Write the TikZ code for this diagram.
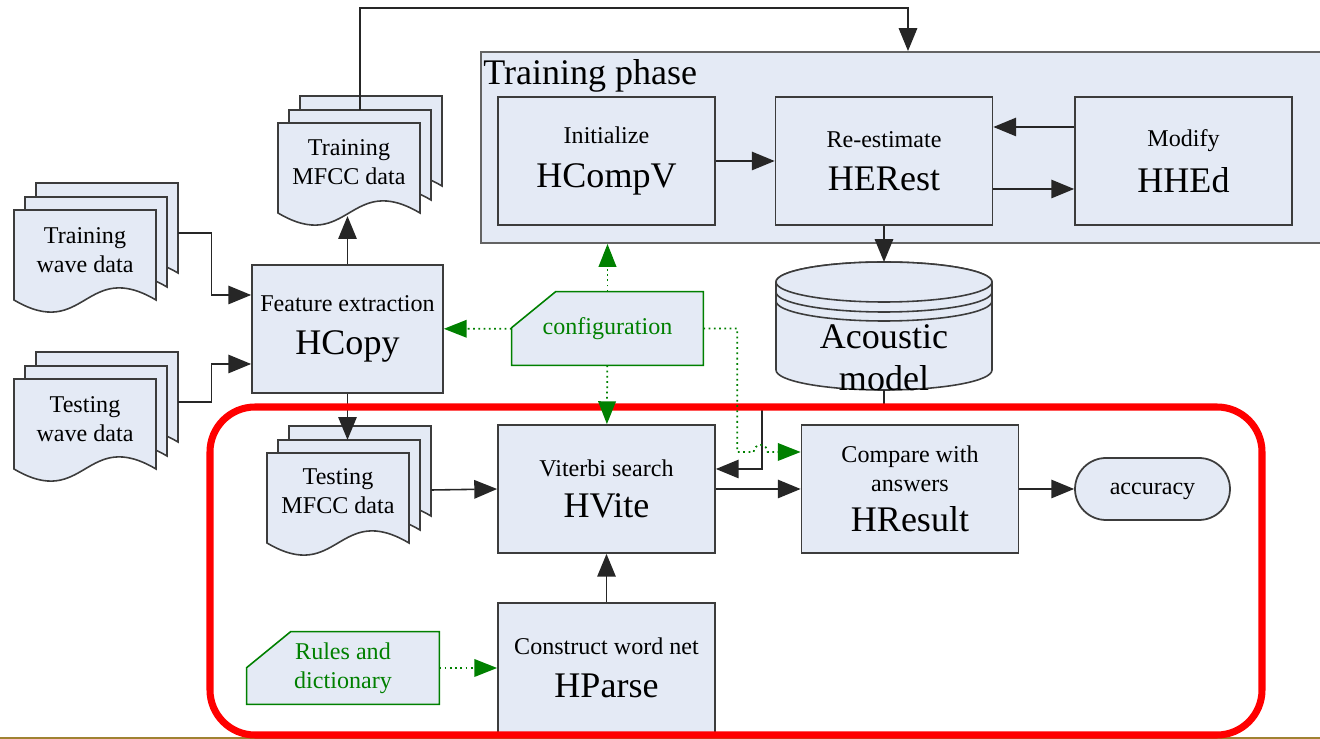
\documentclass[tikz,border=0pt]{standalone}
\usepackage{fontspec}
\setmainfont{Liberation Serif}
\usetikzlibrary{arrows.meta,backgrounds}

\definecolor{boxfill}{RGB}{228,234,245}
\definecolor{boxline}{RGB}{60,60,60}
\definecolor{cfggreen}{RGB}{0,128,0}
\definecolor{framered}{RGB}{255,0,0}
\definecolor{slideline}{RGB}{160,130,50}

\newcommand{\smalltxt}{\fontsize{13.7}{16.5}\selectfont}
\newcommand{\bigtxt}{\fontsize{20.5}{24}\selectfont}

% one page with a wavy bottom, top left corner at (#1,#2)
\newcommand{\docpage}[2]{%
  \draw[page] (#1,#2) -- (#1+142,#2) -- (#1+142,#2+90)
    .. controls (#1+71,#2+48) and (#1+71,#2+132) .. (#1,#2+90) -- cycle;}
% three pages stacked
\newcommand{\docstack}[2]{\docpage{#1+22}{#2-27}\docpage{#1+11}{#2-13}\docpage{#1}{#2}}
% green box with the top left corner cut off
\newcommand{\cutbox}[1]{%
  \draw[cfgshape] ([shift={(44,0)}]#1.north west) -- (#1.north east)
    -- (#1.south east) -- (#1.south west) -- ([shift={(0,36)}]#1.north west) -- cycle;}

\begin{document}
\begin{tikzpicture}[x=0.02cm,y=-0.02cm,
    every node/.style={font=\smalltxt},
    proc/.style={draw=boxline,fill=boxfill,line width=1pt,minimum width=4.34cm,
      minimum height=2.56cm,align=center,inner sep=0pt},
    doctext/.style={align=center,inner sep=0pt,minimum width=2.84cm},
    page/.style={draw=boxline,fill=boxfill,line width=0.9pt},
    arr/.style={draw=black!85,line width=0.9pt,-{Triangle[length=13pt,width=10.5pt]}},
    cfgarr/.style={draw=cfggreen,line width=1pt,dotted,
      -{Triangle[length=13pt,width=10pt]}},
    cfg/.style={text=cfggreen,align=center,inner sep=0pt},
    cfgshape/.style={draw=cfggreen,fill=boxfill,line width=0.9pt}]
\clip (0,0) rectangle (1320,739);

% input and output data
\docstack{14}{210}
\node[doctext] (trwave) at (85,250) {Training\\wave data};
\docstack{14}{379}
\node[doctext] (tewave) at (85,419) {Testing\\wave data};
\docstack{278}{123}
\node[doctext] (trmfcc) at (349,162) {Training\\MFCC data};
\docstack{267}{453}
\node[doctext] (temfcc) at (338,491) {Testing\\MFCC data};

% training phase
\node[draw=boxline!80,fill=boxfill,line width=1.1pt,minimum width=16.98cm,
  minimum height=3.82cm] (train) at (905.5,147.5) {};
\node[anchor=north west,font=\bigtxt,inner sep=0pt] (phase)
  at ([shift={(3,8)}]train.north west) {Training phase};
\node[proc] (hcompv) at (606.5,161) {Initialize\\[8pt]\bigtxt HCompV};
\node[proc] (herest) at (884,161) {Re-estimate\\[8pt]\bigtxt HERest};
\node[proc] (hhed) at (1183.5,161) {Modify\\[8pt]\bigtxt HHEd};

\node[proc,minimum width=3.82cm] (hcopy) at (347.5,329)
  {Feature extraction\\[8pt]\bigtxt HCopy};

% acoustic model
\draw[page] (776,282) -- (776,370) arc[start angle=180,end angle=0,x radius=108,y radius=20]
  -- (992,282) arc[start angle=360,end angle=180,x radius=108,y radius=20] -- cycle;
\draw[page] (884,282) ellipse[x radius=108,y radius=20];
\draw[page,fill=none] (776,292) arc[start angle=180,end angle=0,x radius=108,y radius=20];
\draw[page,fill=none] (776,301) arc[start angle=180,end angle=0,x radius=108,y radius=20];
\coordinate (amtop) at (884,262);
\coordinate (ambot) at (884,390);
\node[font=\bigtxt,align=center,inner sep=0pt] (acoustic) at (884,358) {Acoustic\\model};

% testing phase
\node[proc] (hvite) at (606.5,489) {Viterbi search\\[7pt]\bigtxt HVite};
\node[proc] (hresult) at (910,489) {Compare with\\answers\\[6pt]\bigtxt HResult};
\node[proc,minimum height=2.6cm] (hparse) at (606.5,668) {Construct word net\\[8pt]\bigtxt HParse};
\node[draw=boxline,fill=boxfill,line width=1pt,minimum width=3.1cm,minimum height=1.24cm,
  rounded corners=0.62cm,text height=6.3pt,text depth=0pt] (accuracy) at (1152.5,489) {accuracy};

% settings
\node[cfg,minimum width=3.82cm,minimum height=1.46cm] (config) at (607.5,328.5) {configuration};
\node[cfg,minimum width=3.84cm,minimum height=1.44cm] (rules) at (343,668) {Rules and\\dictionary};
\begin{scope}[on background layer]
\cutbox{config}
\cutbox{rules}
\end{scope}

% data flow
\draw[arr] ([shift={(22,-17)}]trwave.east) -- ++(33,0) |- ([shift={(0,-34)}]hcopy.west);
\draw[arr] ([shift={(22,-17)}]tewave.east) -- ++(33,0) |- ([shift={(0,35)}]hcopy.west);
\draw[arr] (hcopy.north) -- ++(0,-48);
\draw[arr] ([shift={(11,-52)}]trmfcc.center) -- ++(0,-102) -| ([shift={(2.5,0)}]train.north);
\draw[arr] (hcompv) -- (herest);
\draw[arr] ([shift={(0,-34)}]hhed.west) -- ([shift={(0,-34)}]herest.east);
\draw[arr] ([shift={(0,28)}]herest.east) -- ([shift={(0,28)}]hhed.west);
\draw[arr] (herest.south) -- (amtop);
\draw[arr] (ambot) -- ++(0,17) -| ([shift={(46,-20)}]hvite.east) -- ([shift={(0,-20)}]hvite.east);
\draw[arr] (hcopy.south) -- ++(0,46);
\draw[arr] ([shift={(22,-1)}]temfcc.east) -- (hvite.west);
\draw[arr] (hvite) -- (hresult);
\draw[arr] (hresult) -- (accuracy);
\draw[arr] (hparse) -- (hvite);

% frame of the testing phase
\draw[slideline,line width=1pt] (0,738) -- (1320,738);
\draw[framered,line width=4pt,rounded corners=0.9cm] (210,407) rectangle (1262,735);

% configuration links
\draw[cfgarr] (config) -- (hcopy);
\draw[cfgarr] (config.north) -- (config.north |- train.south);
\draw[cfgarr] (config) -- (hvite);
\draw[cfgarr] (config.east) -- ++(34,0) |- ([shift={(-47,-37)}]hresult.west)
  arc[start angle=180,end angle=360,radius=7] -- ([shift={(0,-37)}]hresult.west);
\draw[cfgarr] (rules) -- (hparse);
\end{tikzpicture}
\end{document}
